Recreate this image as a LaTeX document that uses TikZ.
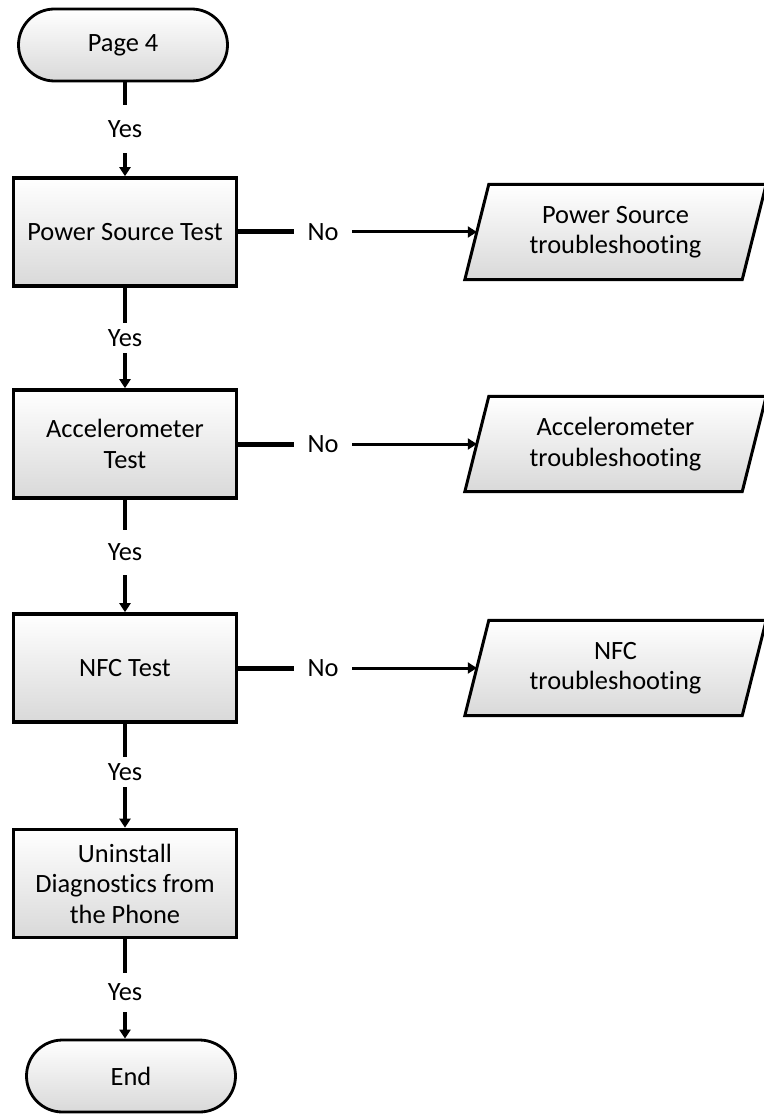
\documentclass[tikz,border=0pt]{standalone}
\usepackage{fontspec}
\setmainfont[Ligatures={NoCommon}]{Carlito}
\usetikzlibrary{arrows.meta,shapes.misc,backgrounds}
\begin{document}
\begin{tikzpicture}[x=1pt,y=-1pt,
  txt/.style={font=\fontsize{26.4}{30.5}\selectfont, text=black, align=center},
  shadefill/.style={top color=white, middle color=white, bottom color=black!15},
  term/.style={txt, shadefill, draw=black, line width=2.8pt, rounded rectangle,
    minimum width=209pt, minimum height=72pt, inner sep=0pt},
  proc/.style={txt, shadefill, draw=black, line width=3.6pt, rectangle,
    minimum width=223pt, minimum height=108pt, inner sep=0pt},
  io/.style={txt, minimum width=277pt, minimum height=95pt, inner sep=0pt},
  iobox/.style={shadefill, draw=black, line width=3pt, line join=miter},
  lbl/.style={txt, inner sep=0pt},
  nolbl/.style={txt, inner sep=0pt, minimum width=58pt},
  link/.style={line width=3.6pt},
  stub/.style={line width=5pt},
  flow/.style={line width=3pt},
  tip/.style={-{Triangle[length=9pt,width=11pt]}},
]
\useasboundingbox (0,0) rectangle (763,1115);

% main column
\node[term] (start) at (123,45) {Page 4};
\node[proc] (b1) at (125,232) {Power Source Test};
\node[proc] (b2) at (125,444) {Accelerometer\\Test};
\node[proc] (b3) at (125,668) {NFC Test};
\node[proc] (b4) at (125,883.5) {Uninstall\\Diagnostics from\\the Phone};
\node[term] (stop) at (131,1076) {End};

% "Yes" labels between the steps
\node[lbl, minimum height=48pt] (y1) at (125,129) {Yes};
\node[lbl, minimum height=30pt] (y2) at (125,338) {Yes};
\node[lbl, minimum height=45pt] (y3) at (125,552.5) {Yes};
\node[lbl, minimum height=30pt] (y4) at (125,772) {Yes};
\node[lbl, minimum height=39pt] (y5) at (125,992.5) {Yes};

% troubleshooting branches
\node[io] (f1) at (615.5,232) {Power Source\\troubleshooting};
\node[io] (f2) at (615.5,444) {Accelerometer\\troubleshooting};
\node[io] (f3) at (615.5,668) {NFC\\troubleshooting};
\begin{scope}[on background layer]
  \foreach \f in {f1,f2,f3}
    \draw[iobox] ([xshift=-12pt]\f.south west) -- ([xshift=12pt]\f.north west)
      -- ([xshift=12pt]\f.north east) -- ([xshift=-12pt]\f.south east) -- cycle;
\end{scope}

\node[nolbl] (n1) at (323,232) {No};
\node[nolbl] (n2) at (323,444) {No};
\node[nolbl] (n3) at (323,668) {No};

% vertical connectors
\draw[link] (y1.north |- start.south) -- (y1.north);
\draw[link, tip] (y1.south) -- (b1.north);
\draw[link] (b1.south) -- (y2.north);
\draw[link, tip] (y2.south) -- (b2.north);
\draw[link] (b2.south) -- (y3.north);
\draw[link, tip] (y3.south) -- (b3.north);
\draw[link] (b3.south) -- (y4.north);
\draw[link, tip] (y4.south) -- (b4.north);
\draw[link] (b4.south) -- (y5.north);
\draw[link, tip] (y5.south) -- (y5.south |- stop.north);

% horizontal connectors
\draw[stub] (b1.east) -- (n1.west);
\draw[flow, tip] (n1.east) -- (f1.west);
\draw[stub] (b2.east) -- (n2.west);
\draw[flow, tip] (n2.east) -- (f2.west);
\draw[stub] (b3.east) -- (n3.west);
\draw[flow, tip] (n3.east) -- (f3.west);
\end{tikzpicture}
\end{document}
